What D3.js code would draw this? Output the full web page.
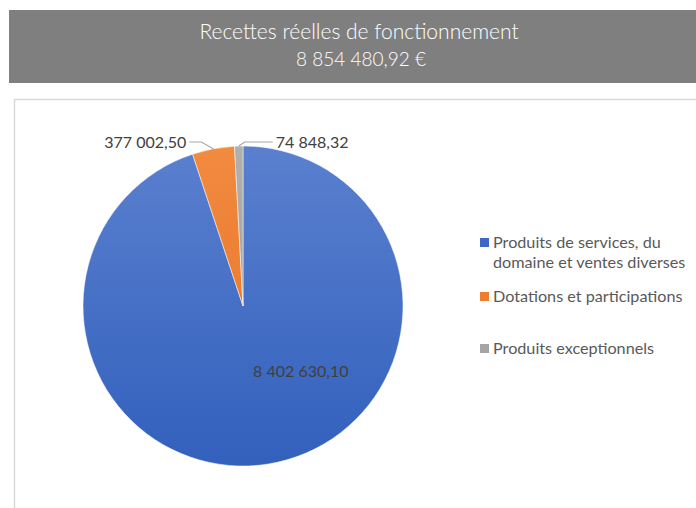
<!DOCTYPE html>
<html>
<head>
<meta charset="utf-8">
<script src="https://cdn.jsdelivr.net/npm/d3@7"></script>
<style>
  html, body { margin: 0; padding: 0; background: #fff; }
  svg { display: block; }
</style>
</head>
<body>
<svg id="chart" width="696" height="508"></svg>
<script>
// data
const categories = [
    'Produits de services, du domaine et ventes diverses',
    'Dotations et participations',
    'Produits exceptionnels'
];
const values = [8402630.10, 377002.50, 74848.32];
const total = 8854480.92;
const titleText = 'Recettes réelles de fonctionnement';
const legendLines = [
    ['Produits de services, du', 'domaine et ventes diverses'],
    ['Dotations et participations'],
    ['Produits exceptionnels']
];

const fr = d3.formatLocale({ decimal: ',', thousands: '\u00a0', grouping: [3], currency: ['', '\u00a0€'] });
const fmt = fr.format(',.2f');

const width = 696, height = 508;
const cx = 243, cy = 306, radius = 160;

const svg = d3.select('#chart');

// gradients (in the pie group's local coords)
const defs = svg.append('defs');
const grads = [
    ['g0', '#5a80cf', '#3260bc'],
    ['g1', '#f28a40', '#e3701f'],
    ['g2', '#b0b0b0', '#9a9a9a']
];
grads.forEach(([id, c1, c2]) => {
    const g = defs.append('linearGradient')
        .attr('id', id)
        .attr('gradientUnits', 'userSpaceOnUse')
        .attr('x1', 0).attr('y1', -radius)
        .attr('x2', 0).attr('y2', radius);
    g.append('stop').attr('offset', '0%').attr('stop-color', c1);
    g.append('stop').attr('offset', '100%').attr('stop-color', c2);
});
const legendColors = ['#3f67c3', '#ed7d31', '#a5a5a5'];

// header bar
svg.append('rect')
    .attr('x', 9).attr('y', 10)
    .attr('width', width - 9).attr('height', 73)
    .attr('fill', '#7f7f7f');

svg.append('text')
    .attr('x', 359).attr('y', 39)
    .attr('text-anchor', 'middle')
    .attr('font-family', 'Lato, sans-serif')
    .attr('font-weight', 300)
    .attr('font-size', 21)
    .attr('fill', '#fff')
    .text(titleText);

svg.append('text')
    .attr('x', 361).attr('y', 66)
    .attr('text-anchor', 'middle')
    .attr('font-family', 'Lato, sans-serif')
    .attr('font-weight', 300)
    .attr('font-size', 19)
    .attr('fill', '#fff')
    .text(fmt(total) + '\u00a0€');

// chart frame
svg.append('path')
    .attr('d', `M14.5,${height} V99.5 H${width}`)
    .attr('fill', 'none')
    .attr('stroke', '#d9d9d9')
    .attr('stroke-width', 1.5);

// pie
const pie = d3.pie().sort(null).value(d => d);
const arcs = pie(values).map((a, i) => ({ ...a, i }));
const arc = d3.arc().innerRadius(0).outerRadius(radius);

const g = svg.append('g').attr('transform', `translate(${cx},${cy})`);

g.selectAll('path')
    .data(arcs)
    .join('path')
    .attr('d', arc)
    .attr('fill', d => `url(#g${d.i})`)
    .attr('stroke', '#fff')
    .attr('stroke-width', 0.5);

// inside label for the big slice
const c0 = arc.centroid(arcs[0]);
g.append('text')
    .attr('x', c0[0] + 45).attr('y', c0[1] - 8)
    .attr('text-anchor', 'middle')
    .attr('font-family', 'Lato, sans-serif')
    .attr('font-size', 16)
    .attr('fill', '#404040')
    .text(fmt(values[0]));

// outside labels with leader lines
const leaders = [null, { dir: -1, ly: -164, elbow: 12, run: 12 }, { dir: 1, ly: -164, elbow: 6, run: 28 }];
arcs.forEach(a => {
    const L = leaders[a.i];
    if (!L) return;
    const mid = (a.startAngle + a.endAngle) / 2;
    const sx = radius * Math.sin(mid), sy = -radius * Math.cos(mid);
    const ex = sx + L.dir * L.elbow;
    const tx = ex + L.dir * L.run;
    g.append('polyline')
        .attr('points', [[sx, sy], [ex, L.ly], [tx, L.ly]].map(p => p.join(',')).join(' '))
        .attr('fill', 'none')
        .attr('stroke', '#a6a6a6')
        .attr('stroke-width', 1.2);
    g.append('text')
        .attr('x', tx + L.dir * 3).attr('y', L.ly)
        .attr('dy', '0.35em')
        .attr('text-anchor', L.dir < 0 ? 'end' : 'start')
        .attr('font-family', 'Lato, sans-serif')
        .attr('font-size', 16)
        .attr('fill', '#404040')
        .text(fmt(values[a.i]));
});

// legend
const legendY = [248, 302, 354];
const legend = svg.append('g').attr('font-family', 'Lato, sans-serif').attr('font-size', 16.2).attr('fill', '#595959');
categories.forEach((c, i) => {
    const item = legend.append('g');
    item.append('rect')
        .attr('x', 480).attr('y', legendY[i] - 10)
        .attr('width', 9).attr('height', 9)
        .attr('fill', legendColors[i]);
    legendLines[i].forEach((line, j) => {
        item.append('text')
            .attr('x', 493).attr('y', legendY[i] + j * 20)
            .text(line);
    });
});
</script>
</body>
</html>
